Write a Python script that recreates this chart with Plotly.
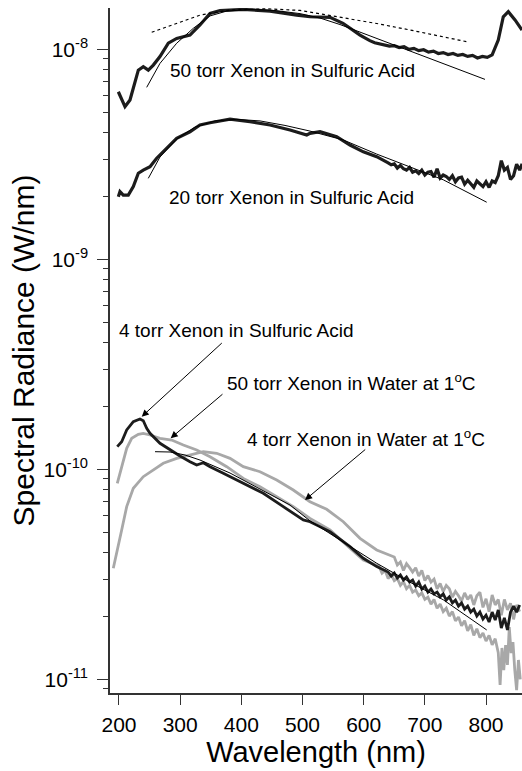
import plotly.graph_objects as go

# ---------------- data ----------------
# 50 torr Xenon in sulfuric acid
sa50_nm = [198.9, 209.8, 218, 226.2, 231.6, 239.7, 247.9, 256.1, 267, 280.6, 294.3, 316, 332.4, 348.8,
           365.1, 403.2, 446.9, 490.5, 512.2, 544.9, 566.2, 594, 602, 610, 618, 626, 634, 642, 650, 658,
           666, 674, 682, 690, 698, 706, 714, 722, 730, 738, 746, 754, 762, 770, 778, 786, 794, 802, 810,
           820, 828.2, 836.4, 847.4, 858.8]
sa50_val = [6.28e-9, 5.33e-9, 5.74e-9, 7.14e-9, 7.96e-9, 8.26e-9, 7.96e-9, 8.41e-9, 9.23e-9, 1.069e-8,
            1.127e-8, 1.169e-8, 1.306e-8, 1.483e-8, 1.528e-8, 1.549e-8, 1.521e-8, 1.455e-8, 1.429e-8,
            1.419e-8, 1.330e-8, 1.169e-8, 1.13e-8, 1.10e-8, 1.075e-8, 1.06e-8, 1.05e-8, 1.035e-8, 1.04e-8,
            1.02e-8, 1.03e-8, 1.00e-8, 1.01e-8, 9.85e-9, 9.95e-9, 9.70e-9, 9.80e-9, 9.55e-9, 9.65e-9,
            9.45e-9, 9.55e-9, 9.35e-9, 9.45e-9, 9.25e-9, 9.35e-9, 9.10e-9, 9.25e-9, 9.15e-9, 9.40e-9,
            1.107e-8, 1.429e-8, 1.510e-8, 1.380e-8, 1.236e-8]

# 20 torr Xenon in sulfuric acid
sa20_nm = [198.9, 201.6, 207, 215.2, 223.4, 231.6, 239.7, 250.7, 261.6, 275.2, 294.3, 316, 332.4, 348.8,
           381.5, 414.2, 446.9, 479.6, 506.9, 512.2, 528.6, 555.9, 577.6, 599.4, 621.3, 640, 645, 650, 655,
           660, 665, 670, 675, 680, 685, 690, 695, 700, 705, 710, 715, 720, 725, 730, 735, 740, 745, 750,
           755, 760, 765, 770, 775, 780, 785, 790, 795, 800, 805, 810, 815, 820, 825, 830, 835, 840, 845,
           850, 855, 859]
sa20_val = [1.986e-9, 2.10e-9, 2.02e-9, 2.02e-9, 2.22e-9, 2.57e-9, 2.66e-9, 2.76e-9, 3.03e-9, 3.31e-9,
            3.77e-9, 4.05e-9, 4.36e-9, 4.47e-9, 4.65e-9, 4.52e-9, 4.36e-9, 4.13e-9, 3.91e-9, 3.98e-9,
            4.05e-9, 3.84e-9, 3.50e-9, 3.25e-9, 3.08e-9, 2.88e-9, 2.82e-9, 2.85e-9, 2.72e-9, 2.80e-9,
            2.70e-9, 2.66e-9, 2.74e-9, 2.60e-9, 2.64e-9, 2.56e-9, 2.66e-9, 2.52e-9, 2.60e-9, 2.62e-9,
            2.46e-9, 2.70e-9, 2.44e-9, 2.52e-9, 2.48e-9, 2.40e-9, 2.50e-9, 2.34e-9, 2.44e-9, 2.46e-9,
            2.28e-9, 2.38e-9, 2.30e-9, 2.20e-9, 2.36e-9, 2.28e-9, 2.22e-9, 2.34e-9, 2.20e-9, 2.36e-9,
            2.32e-9, 2.50e-9, 2.95e-9, 2.66e-9, 2.74e-9, 2.40e-9, 2.50e-9, 2.84e-9, 2.66e-9, 2.85e-9]

# fitted curves (thin lines) and dotted curve for the 50 torr spectrum
fit50_nm = [245.3, 267, 294.3, 321.5, 348.8, 376.1, 414.2, 455, 495.9, 528.6, 561.3, 594, 634.9, 675.7,
            730.2, 798.3]
fit50_val = [6.59e-9, 8.57e-9, 1.069e-8, 1.259e-8, 1.442e-8, 1.521e-8, 1.548e-8, 1.53e-8, 1.479e-8,
             1.409e-8, 1.312e-8, 1.208e-8, 1.083e-8, 9.77e-9, 8.51e-9, 7.19e-9]
dot50_nm = [253.5, 294.3, 332.4, 381.5, 441.5, 495.9, 566.2, 621.3, 675.7, 724.8, 768.4]
dot50_val = [1.205e-8, 1.330e-8, 1.455e-8, 1.538e-8, 1.560e-8, 1.531e-8, 1.416e-8, 1.327e-8, 1.236e-8,
             1.156e-8, 1.087e-8]
fit20_nm = [247.9, 267, 294.3, 324.2, 357, 392.4, 430.5, 471.4, 512.2, 566.7, 621.3, 675.7, 730.2, 801.1]
fit20_val = [2.43e-9, 3.07e-9, 3.74e-9, 4.26e-9, 4.56e-9, 4.64e-9, 4.56e-9, 4.34e-9, 4.08e-9, 3.70e-9,
             3.17e-9, 2.76e-9, 2.39e-9, 1.87e-9]
fitlow_nm = [258.9, 283.4, 307.9, 332.4, 381.5, 430.5, 479.6, 512.2, 566.7, 621.3, 675.7, 730.2, 801.1]
fitlow_val = [1.213e-10, 1.209e-10, 1.170e-10, 1.107e-10, 9.60e-11, 8.06e-11, 6.76e-11, 5.68e-11,
              4.51e-11, 3.57e-11, 2.90e-11, 2.39e-11, 1.718e-11]

# 4 torr Xenon in sulfuric acid
sa4_nm = [197.2, 204.4, 212.6, 223.4, 234.3, 239.7, 245.3, 250.7, 267, 283.4, 299.7, 316.1, 327, 337.8,
          348.8, 370.5, 403.2, 435.9, 468.6, 501.3, 512.2, 528.6, 544.9, 577.6, 599.4, 621.3, 640, 645,
          650, 655, 660, 665, 670, 675, 680, 685, 690, 695, 700, 705, 710, 715, 720, 725, 730, 735, 740,
          745, 750, 755, 760, 765, 770, 775, 780, 785, 790, 795, 800, 805, 810, 815, 820, 825, 830, 835,
          840, 845, 850, 855]
sa4_val = [1.282e-10, 1.353e-10, 1.539e-10, 1.686e-10, 1.737e-10, 1.704e-10, 1.567e-10, 1.484e-10,
           1.330e-10, 1.236e-10, 1.157e-10, 1.087e-10, 1.048e-10, 1.075e-10, 1.029e-10, 9.57e-11, 8.58e-11,
           7.69e-11, 6.64e-11, 5.74e-11, 5.63e-11, 5.33e-11, 5.05e-11, 4.28e-11, 3.77e-11, 3.44e-11,
           3.24e-11, 3.10e-11, 3.21e-11, 3.035e-11, 3.14e-11, 2.97e-11, 3.07e-11, 2.905e-11, 2.97e-11,
           2.78e-11, 2.905e-11, 2.69e-11, 2.78e-11, 2.60e-11, 2.69e-11, 2.55e-11, 2.60e-11, 2.47e-11,
           2.55e-11, 2.385e-11, 2.47e-11, 2.31e-11, 2.385e-11, 2.23e-11, 2.31e-11, 2.16e-11, 2.23e-11,
           2.09e-11, 2.16e-11, 2.00e-11, 2.09e-11, 1.936e-11, 2.02e-11, 1.875e-11, 2.09e-11, 1.915e-11,
           2.14e-11, 1.755e-11, 1.96e-11, 1.717e-11, 2.09e-11, 2.23e-11, 2.09e-11, 2.26e-11]

# 50 torr Xenon in water at 1 C
w50_nm = [197.2, 204.4, 212.6, 220.8, 231.6, 239.7, 250.7, 267, 286.2, 305.1, 327, 348.8, 376.1, 403.2,
          430.5, 457.8, 484.9, 512.2, 544.9, 577.6, 599.4, 625, 630, 635, 640, 645, 650, 655, 660, 665,
          670, 675, 680, 685, 690, 695, 700, 705, 710, 715, 720, 725, 730, 735, 740, 745, 750, 755, 760,
          765, 770, 775, 780, 785, 790, 795, 800, 805, 810, 815, 820, 823, 826, 829, 832, 835, 838, 841,
          844, 847, 850, 853, 856]
w50_val = [8.58e-11, 1.029e-10, 1.259e-10, 1.405e-10, 1.468e-10, 1.484e-10, 1.457e-10, 1.405e-10,
           1.379e-10, 1.305e-10, 1.236e-10, 1.148e-10, 1.029e-10, 9.05e-11, 8.26e-11, 7.41e-11, 6.64e-11,
           5.84e-11, 5.14e-11, 4.21e-11, 3.70e-11, 3.46e-11, 3.20e-11, 3.30e-11, 3.02e-11, 3.15e-11,
           2.95e-11, 3.02e-11, 2.80e-11, 2.92e-11, 2.70e-11, 2.80e-11, 2.60e-11, 2.66e-11, 2.50e-11,
           2.58e-11, 2.40e-11, 2.46e-11, 2.28e-11, 2.40e-11, 2.18e-11, 2.28e-11, 2.10e-11, 2.18e-11,
           2.00e-11, 2.10e-11, 1.90e-11, 1.98e-11, 1.80e-11, 1.90e-11, 1.70e-11, 1.82e-11, 1.62e-11,
           1.74e-11, 1.58e-11, 1.66e-11, 1.52e-11, 1.62e-11, 1.46e-11, 1.56e-11, 1.34e-11, 9.4e-12,
           1.41e-11, 1.107e-11, 1.456e-11, 1.17e-11, 1.774e-11, 1.334e-11, 1.505e-11, 1.107e-11, 8.89e-12,
           1.236e-11, 1.0e-11]

# 4 torr Xenon in water at 1 C
w4_nm = [190.7, 196.2, 204.4, 212.6, 223.4, 239.7, 256.1, 272.4, 294.3, 316.1, 337.8, 359.7, 381.5, 403.2,
         430.5, 457.8, 484.9, 512.2, 539.5, 566.7, 594, 621.3, 650, 655, 660, 665, 670, 675, 680, 685,
         690, 695, 700, 705, 710, 715, 720, 725, 730, 735, 740, 745, 750, 755, 760, 765, 770, 775, 780,
         785, 790, 795, 800, 805, 810, 815, 820, 825, 830, 835, 840, 845, 850, 855]
w4_val = [3.38e-11, 4.05e-11, 5.14e-11, 6.64e-11, 8.12e-11, 9.22e-11, 9.93e-11, 1.069e-10, 1.128e-10,
          1.170e-10, 1.213e-10, 1.192e-10, 1.128e-10, 1.029e-10, 9.74e-11, 8.89e-11, 7.97e-11, 7.01e-11,
          6.45e-11, 5.63e-11, 4.69e-11, 4.13e-11, 3.82e-11, 3.50e-11, 3.62e-11, 3.30e-11, 3.55e-11,
          3.40e-11, 3.24e-11, 3.40e-11, 3.10e-11, 3.30e-11, 2.95e-11, 3.12e-11, 2.90e-11, 3.00e-11,
          2.70e-11, 2.86e-11, 2.62e-11, 2.80e-11, 2.70e-11, 2.46e-11, 2.62e-11, 2.50e-11, 2.36e-11,
          2.58e-11, 2.40e-11, 2.52e-11, 2.26e-11, 2.50e-11, 2.60e-11, 2.20e-11, 2.42e-11, 2.10e-11,
          2.52e-11, 2.26e-11, 2.40e-11, 2.02e-11, 2.40e-11, 2.14e-11, 2.30e-11, 1.93e-11, 2.26e-11,
          2.10e-11]

x_ticks = [200, 300, 400, 500, 600, 700, 800]
y_ticks = [1e-11, 1e-10, 1e-9, 1e-8]
y_ticktext = ["10<sup>-11</sup>", "10<sup>-10</sup>", "10<sup>-9</sup>", "10<sup>-8</sup>"]

labels = ["50 torr Xenon in Sulfuric Acid", "20 torr Xenon in Sulfuric Acid",
          "4 torr Xenon in Sulfuric Acid", "50 torr Xenon in Water at 1<sup>o</sup>C",
          "4 torr Xenon in Water at 1<sup>o</sup>C"]

# ---------------- figure ----------------
FONT = "Liberation Sans, Arial, Helvetica, sans-serif"
GREY = "#a8a8a8"
BLACK = "#1c1c1c"

fig = go.Figure()


def line(x, y, color, width, dash="solid"):
    fig.add_trace(go.Scatter(x=x, y=y, mode="lines", showlegend=False, hoverinfo="skip",
                             line=dict(color=color, width=width, dash=dash)))


line(w4_nm, w4_val, GREY, 2.8)
line(w50_nm, w50_val, GREY, 2.8)
line(sa4_nm, sa4_val, BLACK, 2.8)
line(fitlow_nm, fitlow_val, "black", 1)
line(sa20_nm, sa20_val, BLACK, 3.2)
line(fit20_nm, fit20_val, "black", 1)
line(sa50_nm, sa50_val, BLACK, 3.2)
line(fit50_nm, fit50_val, "black", 1)
line(dot50_nm, dot50_val, "black", 1.2, "dot")

minor_vals = [k * 10.0 ** d for d in range(-12, -7) for k in range(2, 10)]

fig.update_layout(
    width=522, height=771,
    margin=dict(l=110, r=0, t=8, b=78),
    paper_bgcolor="white", plot_bgcolor="white",
    font=dict(family=FONT, color="black"),
    xaxis=dict(range=[185.3, 858.8], tickvals=x_ticks, ticks="outside", ticklen=10, tickwidth=1.2,
               tickcolor="#333", showline=True, linewidth=1.5, linecolor="#333", showgrid=False,
               zeroline=False, tickfont=dict(size=21, family=FONT, color="black"),
               ticklabelstandoff=2, automargin=False,
               title=dict(text="Wavelength (nm)", font=dict(size=29, family=FONT, color="black"),
                          standoff=6)),
    yaxis=dict(type="log", range=[-11.0652, -7.8033], tickvals=y_ticks, ticktext=y_ticktext,
               ticks="outside", ticklen=11, tickwidth=1.2, tickcolor="#333", showline=True,
               linewidth=1.5, linecolor="#333", showgrid=False, zeroline=False,
               tickfont=dict(size=21, family=FONT, color="black"), ticklabelstandoff=5,
               automargin=False,
               minor=dict(tickvals=minor_vals, ticks="outside", ticklen=5, tickwidth=1.2,
                          tickcolor="#333", showgrid=False),
               title=dict(text="Spectral Radiance (W/nm)",
                          font=dict(size=30, family=FONT, color="black"), standoff=0)),
)

# text labels (log axis -> y given as log10)
text_pos = [(280.1, -8.101), (278.0, -8.7057), (196.2, -9.338), (373.3, -9.582), (406.0, -9.850)]
for (tx, ty), t in zip(text_pos, labels):
    fig.add_annotation(x=tx, y=ty, xref="x", yref="y", text=t, showarrow=False, xanchor="left",
                       yanchor="middle", font=dict(size=19, family=FONT, color="black"))

# arrows: head in data coords, tail as pixel offset
arrows = [(237.1, -9.7495, 81.6, -75), (284.5, -9.852, 53.3, -45.3), (504.1, -10.146, 61.7, -51.7)]
for hx, hy, ax, ay in arrows:
    fig.add_annotation(x=hx, y=hy, xref="x", yref="y", text="", showarrow=True, ax=ax, ay=ay,
                       arrowhead=2, arrowsize=1.4, arrowwidth=1, arrowcolor="black", standoff=0)

fig.write_html("out.html")
